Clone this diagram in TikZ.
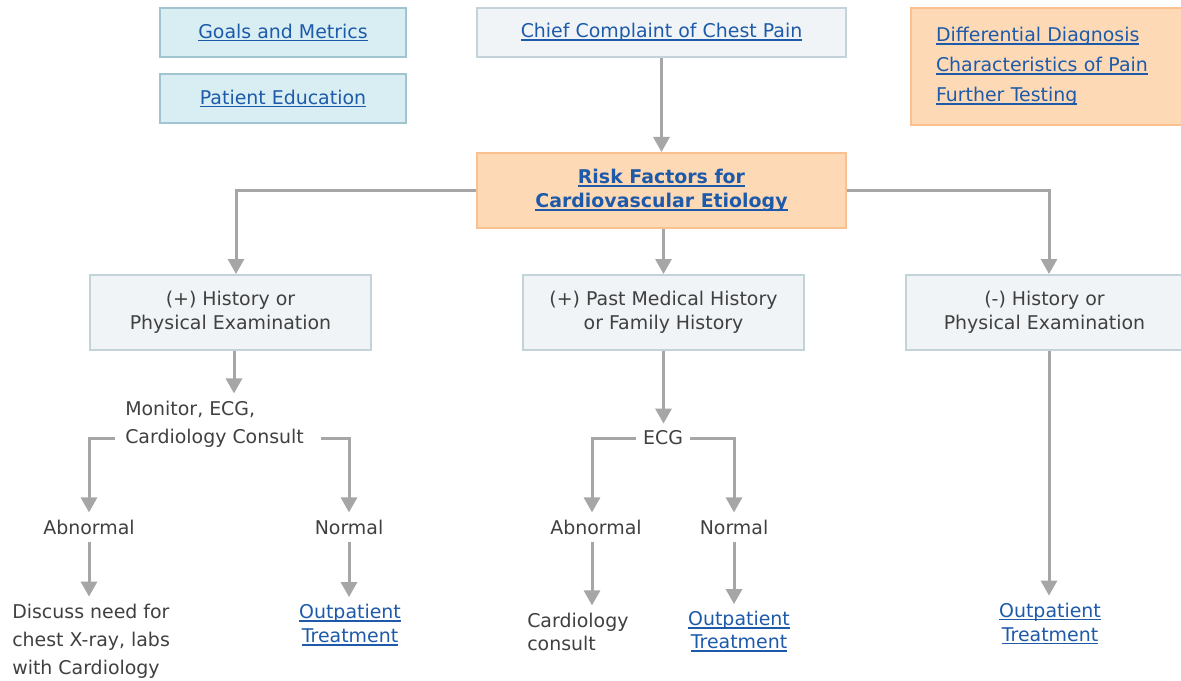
\documentclass[tikz,border=0pt]{standalone}
\usepackage{fontspec}
\setmainfont{DejaVu Sans}
\usetikzlibrary{arrows.meta}
\definecolor{linkblue}{RGB}{30,90,170}
\definecolor{textgray}{RGB}{64,64,64}
\definecolor{bluefill}{RGB}{217,238,243}
\definecolor{blueline}{RGB}{160,196,208}
\definecolor{grayfill}{RGB}{240,244,246}
\definecolor{grayline}{RGB}{196,210,218}
\definecolor{orangefill}{RGB}{253,217,181}
\definecolor{orangeline}{RGB}{250,192,143}
\definecolor{arrowgray}{RGB}{166,166,166}
\newsavebox\lnkbox
\newcommand\lnk[1]{\sbox\lnkbox{\textcolor{linkblue}{#1}}\usebox\lnkbox\textcolor{linkblue}{\llap{\rule[-2.2pt]{\wd\lnkbox}{0.9pt}}}}
\newcommand\px[1]{#1*0.75pt}
\tikzset{
  basefont/.style={font=\fontsize{14.2}{18}\selectfont},
  boxbase/.style={basefont, draw, line width=\px{2}, inner sep=0pt, align=center, text=textgray},
  bbox/.style={boxbase, fill=bluefill, draw=blueline},
  gbox/.style={boxbase, fill=grayfill, draw=grayline},
  obox/.style={boxbase, fill=orangefill, draw=orangeline},
  txt/.style={basefont, inner sep=\px{7}, text=textgray, align=center},
  arr/.style={draw=arrowgray, line width=\px{3}, -{Triangle[width=\px{16}, length=\px{15}]}},
}
\begin{document}
\begin{tikzpicture}[x=0.75pt, y=-0.75pt]
\useasboundingbox (0,0) rectangle (1181,681);
\fill[white] (0,0) rectangle (1181,681);
% top boxes
\node[bbox, minimum width=\px{246}, minimum height=\px{49}] (goals) at (283,32.5) {\lnk{Goals and Metrics}};
\node[bbox, minimum width=\px{246}, minimum height=\px{49}] (edu) at (283,98.5) {\lnk{Patient Education}};
\node[gbox, minimum width=\px{369}, minimum height=\px{49}] (chief) at (661.5,32.5) {\lnk{Chief Complaint of Chest Pain}};
\node[obox, anchor=west, minimum height=\px{117}, text width=\px{222}, inner xsep=\px{25}, align=left,
      font=\fontsize{14.2}{22.5}\selectfont] (diff) at (910,66.5)
  {\lnk{Differential Diagnosis}\\\lnk{Characteristics of Pain}\\\lnk{Further Testing}};
\node[obox, minimum width=\px{369}, minimum height=\px{75}, font=\fontsize{14.2}{18}\selectfont\bfseries] (risk) at (661.5,190.5)
  {\lnk{Risk Factors for}\\\lnk{Cardiovascular Etiology}};
% second row
\node[gbox, minimum width=\px{281}, minimum height=\px{75}] (b1) at (230.5,312.5) {(+) History or\\Physical Examination};
\node[gbox, minimum width=\px{281}, minimum height=\px{75}] (b2) at (663.5,312.5) {(+) Past Medical History\\or Family History};
\node[gbox, minimum width=\px{277}, minimum height=\px{75}] (b3) at (1044.5,312.5) {(-) History or\\Physical Examination};
% left branch
\node[txt, anchor=west] (mon1) at (118,409) {Monitor, ECG,};
\node[txt, anchor=west] (mon2) at (118,438) {Cardiology Consult};
\node[txt] (abn1) at (89,527) {Abnormal};
\node[txt] (norm1) at (349,527) {Normal};
\node[txt, anchor=west, align=left, font=\fontsize{14.2}{21}\selectfont] (disc) at (5,641)
  {Discuss need for\\chest X-ray, labs\\with Cardiology};
\node[txt] (out1) at (350,625) {\lnk{Outpatient}\\\lnk{Treatment}};
% middle branch
\node[txt] (ecg) at (663,438) {ECG};
\node[txt] (abn2) at (596,527) {Abnormal};
\node[txt] (norm2) at (734,527) {Normal};
\node[txt, anchor=west, align=left, font=\fontsize{14.2}{17.25}\selectfont] (card) at (520,631.5) {Cardiology\\consult};
\node[txt, font=\fontsize{14.2}{17.25}\selectfont] (out2) at (739,631.5) {\lnk{Outpatient}\\\lnk{Treatment}};
% right branch
\node[txt] (out3) at (1050,623.5) {\lnk{Outpatient}\\\lnk{Treatment}};
% connectors
\draw[arr] (chief.south -| risk.north) -- (risk.north);
\draw[arr] (risk.west) -| ([xshift=\px{5.5}]b1.north);
\draw[arr] (risk.south -| b2.north) -- (b2.north);
\draw[arr] (risk.east) -| ([xshift=\px{4.5}]b3.north);
\draw[arr] ([xshift=\px{3.5}]b1.south) -- ([xshift=\px{3.5}]b1.south |- mon1.north);
\draw[arr] ([xshift=-\px{3}]mon2.west) -| (abn1.north);
\draw[arr] ([xshift=\px{10}]mon2.east) -| (norm1.north);
\draw[arr] (abn1.south) -- (abn1.south |- disc.north);
\draw[arr] (norm1.south) -- (norm1.south |- out1.north);
\draw[arr] (b2.south) -- (b2.south |- ecg.north);
\draw[arr] (ecg.west) -| ([xshift=-\px{4}]abn2.north);
\draw[arr] (ecg.east) -| (norm2.north);
\draw[arr] ([xshift=-\px{4}]abn2.south) -- ([xshift=-\px{4}]abn2.south |- card.north);
\draw[arr] (norm2.south) -- (norm2.south |- out2.north);
\draw[arr] ([xshift=\px{4.5}]b3.south) -- ([xshift=\px{4.5}]b3.south |- out3.north);
\end{tikzpicture}
\end{document}
